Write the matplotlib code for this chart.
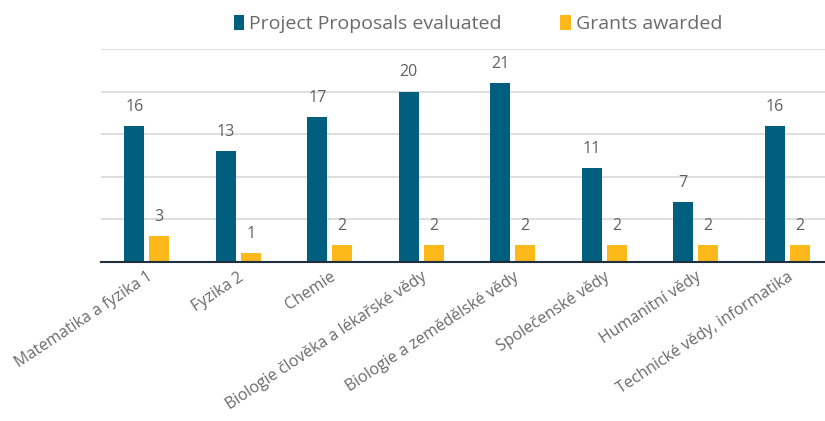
import numpy as np
import matplotlib.pyplot as plt

categories = ["Matematika a fyzika 1", "Fyzika 2", "Chemie",
              "Biologie člověka a lékařské vědy", "Biologie a zemědělské vědy",
              "Společenské vědy", "Humanitní vědy", "Technické vědy, informatika"]
proposals = [16, 13, 17, 20, 21, 11, 7, 16]
grants = [3, 1, 2, 2, 2, 2, 2, 2]
series_names = ["Project Proposals evaluated", "Grants awarded"]

blue = "#005e7e"
yellow = "#fdb81a"
text_gray = "#606060"

plt.rcParams['font.family'] = ['Open Sans', 'DejaVu Sans']

fig = plt.figure(figsize=(8.25, 4.21), dpi=100)
# axes spans roughly x 101..833 px, y 49..262 px
ax = fig.add_axes([101 / 825, 1 - 262 / 421, 732 / 825, 213 / 421])

x = np.arange(len(categories))
w = 0.22
off = 0.137
b1 = ax.bar(x - off, proposals, width=w, color=blue, label=series_names[0], zorder=3)
b2 = ax.bar(x + off, grants, width=w, color=yellow, label=series_names[1], zorder=3)

for bars, vals in ((b1, proposals), (b2, grants)):
    for rect, v in zip(bars, vals):
        ax.annotate(str(v), (rect.get_x() + rect.get_width() / 2, v),
                    xytext=(0, 8), textcoords="offset points",
                    ha="center", va="bottom", fontsize=11.5, color=text_gray)

ax.set_xlim(-0.5, len(categories) - 0.5)
ax.set_ylim(0, 25)
ax.set_yticks([0, 5, 10, 15, 20, 25])
ax.yaxis.grid(True, color="#d9d9d9", linewidth=1.2, zorder=0)
ax.tick_params(axis="y", left=False, labelleft=False)
ax.tick_params(axis="x", length=0, pad=5)
for s in ("top", "right", "left"):
    ax.spines[s].set_visible(False)
ax.spines["bottom"].set_color("#1f2f3f")
ax.spines["bottom"].set_linewidth(1.5)
ax.spines["bottom"].set_zorder(4)

ax.set_xticks(x)
ax.set_xticklabels(categories, rotation=33.5, ha="right", rotation_mode="anchor",
                   fontsize=11.5, color="#6a6a6a")

leg = fig.legend(loc="center", bbox_to_anchor=(478 / 825, 1 - 24 / 421), ncol=2,
                 frameon=False, fontsize=14, handlelength=0.55, handleheight=0.85,
                 handletextpad=0.25, columnspacing=3.0, labelcolor="#6a6a6a")

fig.savefig("out.png", dpi=100)
